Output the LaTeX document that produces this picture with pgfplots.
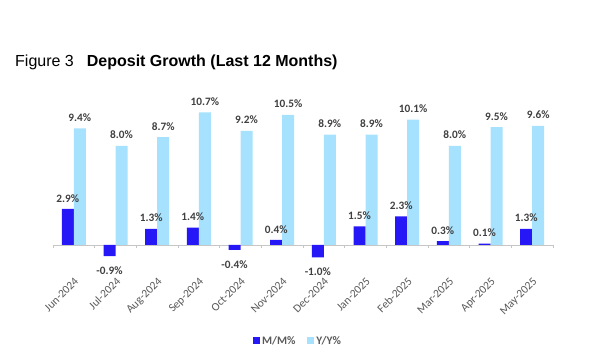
\documentclass[border=0pt]{standalone}
\usepackage{fontspec}
\setmainfont{Carlito}
\newfontfamily\arialfont{Liberation Sans}
\usepackage{pgfplots}
\pgfplotsset{compat=1.18}
\definecolor{mm}{RGB}{38,24,246}
\definecolor{yy}{RGB}{166,226,253}
\definecolor{lbl}{RGB}{64,64,64}
\definecolor{tck}{RGB}{89,89,89}
\begin{document}
\begin{tikzpicture}
\useasboundingbox (0,0) rectangle (595bp,362bp);
\node[anchor=west, inner sep=0pt] at (15bp,300bp) {\fontsize{16bp}{19bp}\selectfont\arialfont Figure 3\hspace{13bp}\textbf{Deposit Growth (Last 12 Months)}};
\begin{axis}[
  at={(53bp,97.2bp)}, anchor=south west,
  scale only axis, width=500bp, height=156.24bp,
  xmin=-0.5, xmax=11.5, ymin=-1.6, ymax=11,
  axis x line=middle, axis y line=none,
  x axis line style={-, draw=gray!45, line width=0.8bp},
  ybar=0pt, bar width=12bp,
  xtick={0,...,11},
  xticklabels={Jun-2024,Jul-2024,Aug-2024,Sep-2024,Oct-2024,Nov-2024,Dec-2024,Jan-2025,Feb-2025,Mar-2025,Apr-2025,May-2025},
  major tick length=0pt,
  minor xtick={-0.5,0.5,...,11.5},
  minor tick length=3.5bp,
  tick align=outside,
  minor tick style={draw=gray!45, line width=0.8bp},
  xticklabel shift=30bp,
  xticklabel style={rotate=45, anchor=north east, font=\fontsize{11.5bp}{13bp}\selectfont, text=tck, inner sep=1pt},
  /pgf/number format/assume math mode=true,
  nodes near coords={\pgfmathprintnumber[fixed,fixed zerofill,precision=1]{\pgfplotspointmeta}\%},
  nodes near coords align={vertical},
  every node near coord/.append style={font=\bfseries\fontsize{11.3bp}{13bp}\selectfont, text=lbl, inner ysep=8.4bp, inner xsep=1bp, yshift=-1.75bp},
  legend style={at={(0.49,-0.487)}, anchor=center, draw=none, fill=none, legend columns=2, font=\bfseries\fontsize{11.5bp}{13bp}\selectfont, text=tck, /tikz/every even column/.append style={column sep=10bp}},
  legend image code/.code={\fill[#1] (0bp,-3.5bp) rectangle (7bp,3.5bp);},
  clip=false,
]
\addplot[fill=mm, draw=none] coordinates {(0,2.9)(1,-0.9)(2,1.3)(3,1.4)(4,-0.4)(5,0.4)(6,-1.0)(7,1.5)(8,2.3)(9,0.3)(10,0.1)(11,1.3)};
\addplot[fill=yy, draw=none] coordinates {(0,9.4)(1,8.0)(2,8.7)(3,10.7)(4,9.2)(5,10.5)(6,8.9)(7,8.9)(8,10.1)(9,8.0)(10,9.5)(11,9.6)};
\legend{M/M\%, Y/Y\%}
\end{axis}
\end{tikzpicture}
\end{document}
